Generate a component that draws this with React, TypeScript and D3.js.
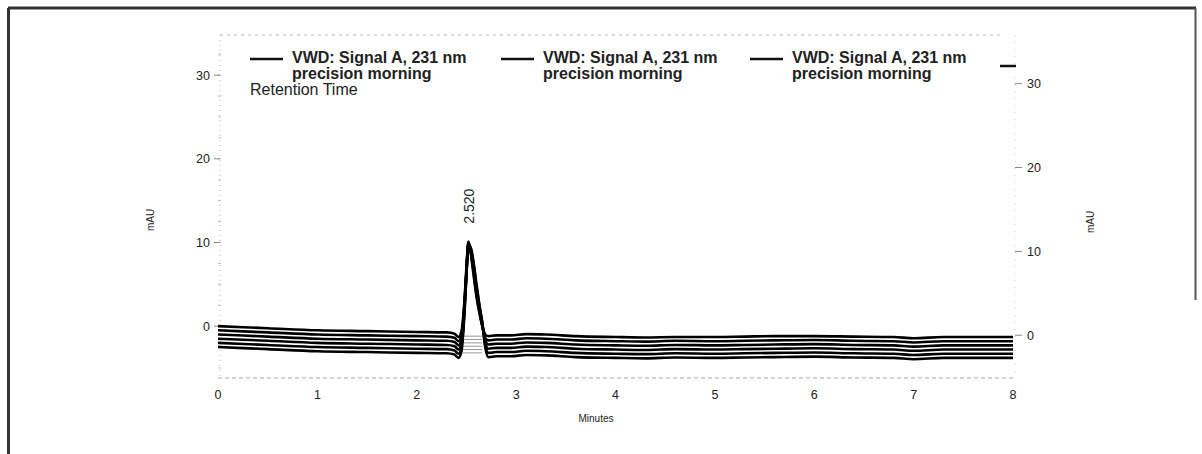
import React from "react";
import * as d3 from "d3";

const times = [0, 0.5, 1, 1.5, 2, 2.3, 2.38, 2.42, 2.45, 2.48, 2.5, 2.52, 2.54, 2.57, 2.6, 2.63, 2.66, 2.69, 2.72, 2.8, 2.95, 3.1, 3.3, 3.6, 4, 4.3, 4.6, 5, 5.3, 5.6, 6, 6.4, 6.8, 7, 7.3, 7.6, 8];

const run1 = [0, -0.25, -0.5, -0.6, -0.7, -0.75, -0.9, -1.3, -0.6, 3.0, 7.0, 10.1, 9.0, 6.3, 3.6, 1.6, 0.0, -1.0, -1.2, -1.1, -1.1, -0.95, -1.0, -1.2, -1.3, -1.35, -1.3, -1.3, -1.25, -1.2, -1.2, -1.25, -1.3, -1.45, -1.3, -1.3, -1.3];
const run2 = [-0.5, -0.75, -1.0, -1.1, -1.2, -1.25, -1.4, -1.8, -1.0, 2.7, 6.8, 10.0, 9.1, 6.6, 3.9, 1.8, 0.0, -1.4, -1.7, -1.6, -1.6, -1.45, -1.5, -1.7, -1.8, -1.85, -1.75, -1.8, -1.75, -1.7, -1.65, -1.75, -1.8, -1.95, -1.8, -1.8, -1.8];
const run3 = [-1.0, -1.25, -1.5, -1.6, -1.7, -1.75, -1.9, -2.3, -1.5, 2.4, 6.6, 9.9, 9.2, 6.9, 4.2, 2.0, 0.1, -1.7, -2.2, -2.1, -2.1, -1.95, -2.0, -2.2, -2.3, -2.35, -2.25, -2.3, -2.25, -2.2, -2.15, -2.25, -2.3, -2.45, -2.3, -2.3, -2.3];
const run4 = [-1.5, -1.75, -2.0, -2.1, -2.2, -2.25, -2.4, -2.8, -2.0, 2.1, 6.4, 9.8, 9.3, 7.2, 4.5, 2.2, 0.2, -2.0, -2.7, -2.6, -2.6, -2.45, -2.5, -2.7, -2.8, -2.85, -2.75, -2.8, -2.75, -2.7, -2.65, -2.75, -2.8, -2.95, -2.8, -2.8, -2.8];
const run5 = [-2.0, -2.25, -2.5, -2.6, -2.7, -2.75, -2.9, -3.3, -2.5, 1.8, 6.2, 9.7, 9.4, 7.5, 4.8, 2.4, 0.3, -2.3, -3.2, -3.1, -3.1, -2.95, -3.0, -3.2, -3.3, -3.35, -3.25, -3.3, -3.25, -3.2, -3.15, -3.25, -3.3, -3.45, -3.3, -3.3, -3.3];
const run6 = [-2.5, -2.75, -3.0, -3.1, -3.2, -3.25, -3.4, -3.8, -3.0, 1.5, 6.0, 9.6, 9.5, 7.8, 5.1, 2.6, 0.4, -2.6, -3.7, -3.6, -3.6, -3.45, -3.5, -3.7, -3.8, -3.85, -3.75, -3.8, -3.75, -3.7, -3.65, -3.75, -3.8, -3.95, -3.8, -3.8, -3.8];
const runs = [run1, run2, run3, run4, run5, run6];

const integrationStart = 2.46;
const integrationEnd = 2.66;
const integrationLevels = [-1.2, -1.6, -2.0, -2.4, -2.8, -3.2];

const xTicks = [0, 1, 2, 3, 4, 5, 6, 7, 8];
const yTicksLeft = [0, 10, 20, 30];
const yTicksRight = [0, 10, 20, 30];
const peakTime = 2.52;
const peakHeight = 10.1;
const peakLabel = "2.520";
const legendLine1 = "VWD: Signal A, 231 nm";
const legendLine2 = "precision morning";

export default function App() {
  const x = d3.scaleLinear().domain([0, 8]).range([218, 1013]);
  const yL = d3.scaleLinear().domain([-6.2, 34.8]).range([378, 35]);
  const yR = d3.scaleLinear().domain([-5.1, 35.8]).range([378, 35]);
  const line = d3
    .line<number>()
    .x((_, i) => x(times[i]))
    .y((d) => yL(d))
    .curve(d3.curveMonotoneX);

  const font = "'Liberation Sans', Arial, sans-serif";
  const txt = "#222";
  const minorL = d3.range(-5, 35, 2.5);

  return (
    <svg
      width={1202}
      height={454}
      style={{ position: "absolute", left: 0, top: 0, background: "#fff" }}
      fontFamily={font}
    >
      {/* frame */}
      <line x1={8} y1={8} x2={1196} y2={8} stroke="#333" strokeWidth={3} />
      <line x1={8.5} y1={8} x2={8.5} y2={454} stroke="#333" strokeWidth={3} />
      <line x1={1195.5} y1={8} x2={1195.5} y2={300} stroke="#555" strokeWidth={2} />

      {/* plot box dotted */}
      <line x1={220} y1={35} x2={1000} y2={35} stroke="#bbb" strokeDasharray="3,4" />
      <line x1={218} y1={378} x2={1013} y2={378} stroke="#aaa" strokeDasharray="4,3" />
      <line x1={220} y1={35} x2={220} y2={378} stroke="#bbb" strokeDasharray="1,4" />
      <line x1={1015} y1={35} x2={1015} y2={378} stroke="#ccc" strokeDasharray="1,6" />
      {minorL.map((v) => (
        <line key={"ml" + v} x1={218} x2={221} y1={yL(v)} y2={yL(v)} stroke="#bbb" />
      ))}

      {/* left axis */}
      {yTicksLeft.map((v) => (
        <g key={"l" + v}>
          <line x1={214} x2={220} y1={yL(v)} y2={yL(v)} stroke="#888" />
          <text x={210} y={yL(v) + 4.5} textAnchor="end" fontSize={12.5} fill={txt}>
            {v}
          </text>
        </g>
      ))}
      <text
        transform={`translate(154,${220}) rotate(-90)`}
        textAnchor="middle"
        fontSize={10}
        fill={txt}
      >
        mAU
      </text>

      {/* right axis */}
      {yTicksRight.map((v) => (
        <g key={"r" + v}>
          <line x1={1015} x2={1022} y1={yR(v)} y2={yR(v)} stroke="#888" />
          <text x={1027} y={yR(v) + 4.5} textAnchor="start" fontSize={12.5} fill={txt}>
            {v}
          </text>
        </g>
      ))}
      <text
        transform={`translate(1094,${222}) rotate(-90)`}
        textAnchor="middle"
        fontSize={10}
        fill={txt}
      >
        mAU
      </text>

      {/* x axis labels */}
      {xTicks.map((v) => (
        <text key={"x" + v} x={x(v)} y={399} textAnchor="middle" fontSize={12.5} fill={txt}>
          {v}
        </text>
      ))}
      <text x={596} y={422} textAnchor="middle" fontSize={10} fill={txt}>
        Minutes
      </text>

      {/* integration baselines */}
      {integrationLevels.map((v, i) => (
        <line
          key={"b" + i}
          x1={x(integrationStart)}
          x2={x(integrationEnd)}
          y1={yL(v)}
          y2={yL(v)}
          stroke="#555"
          strokeWidth={0.6}
        />
      ))}

      {/* traces */}
      {runs.map((r, i) => (
        <path key={"t" + i} d={line(r) || ""} fill="none" stroke="#000" strokeWidth={2.6} />
      ))}

      {/* peak label */}
      <text
        transform={`translate(${x(peakTime) + 6},${yL(peakHeight) - 18}) rotate(-90)`}
        textAnchor="start"
        fontSize={14}
        fill={txt}
      >
        {peakLabel}
      </text>

      {/* legend */}
      {[250, 501, 750].map((lx, i) => (
        <g key={"lg" + i}>
          <line x1={lx} x2={lx + 33} y1={59} y2={59} stroke="#111" strokeWidth={2.5} />
          <text x={lx + 42} y={63} fontSize={16} fontWeight="bold" fill={txt}>
            {legendLine1}
          </text>
          <text x={lx + 42} y={79} fontSize={16} fontWeight="bold" fill={txt}>
            {legendLine2}
          </text>
        </g>
      ))}
      <line x1={1000} x2={1016} y1={66} y2={66} stroke="#111" strokeWidth={2.5} />
      <text x={250} y={95} fontSize={16} fill={txt}>
        Retention Time
      </text>
    </svg>
  );
}
